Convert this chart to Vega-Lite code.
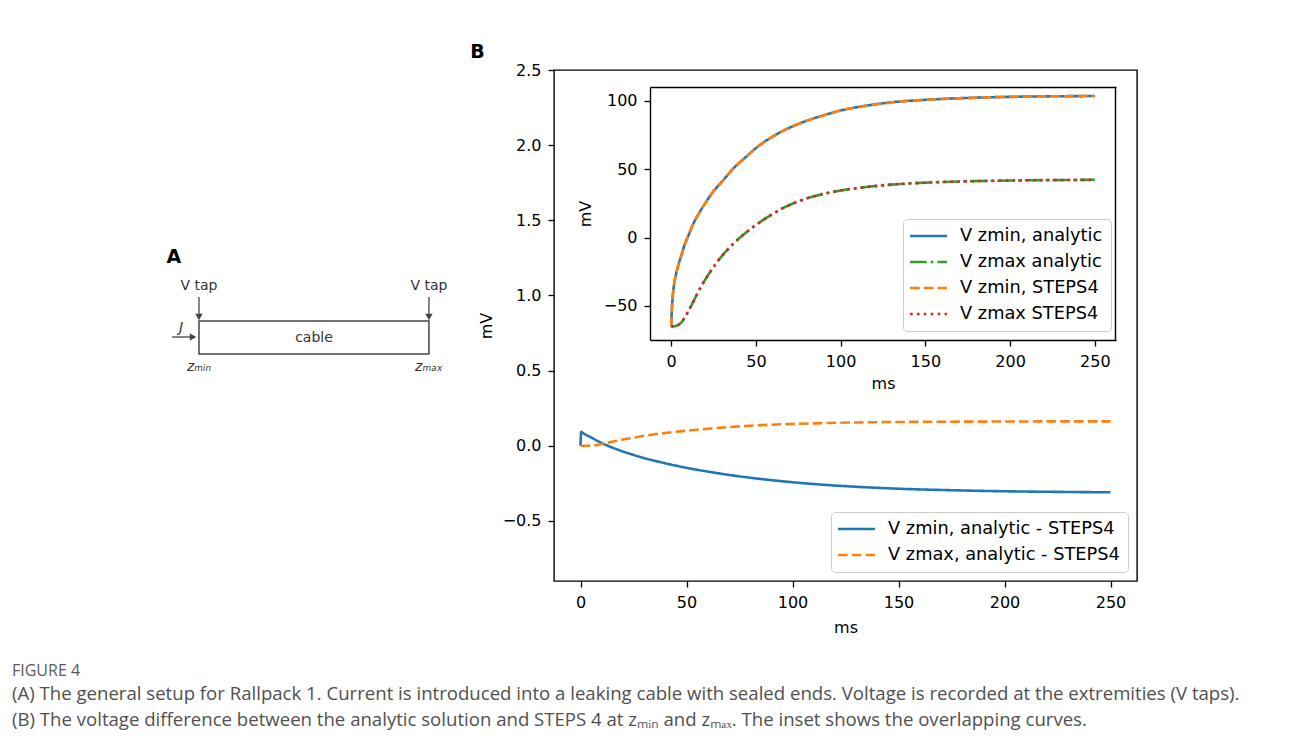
{
  "$schema": "https://vega.github.io/schema/vega-lite/v6.json",
  "background": "white",
  "padding": {"left": 12, "top": 42, "right": 5, "bottom": 5},
  "title": {
    "text": "FIGURE 4",
    "subtitle": [
      "(A) The general setup for Rallpack 1. Current is introduced into a leaking cable with sealed ends. Voltage is recorded at the extremities (V taps).",
      "(B) The voltage difference between the analytic solution and STEPS 4 at zₘᵢₙ and zₘₐₓ. The inset shows the overlapping curves."
    ],
    "orient": "bottom",
    "anchor": "start",
    "frame": "bounds",
    "offset": 27,
    "font": "Open Sans",
    "fontSize": 16,
    "fontWeight": "normal",
    "color": "#5a5a5a",
    "subtitleFont": "Open Sans",
    "subtitleFontSize": 18.6,
    "subtitleColor": "#505050",
    "subtitleLineHeight": 26,
    "subtitlePadding": 6
  },
  "datasets": {
    "cable": [{"z0": 0, "z1": 1, "u0": 0, "u1": 1}],
    "taps": [
      {"z0": 0, "u0": 1.73, "z1": 0, "u1": 1.12},
      {"z0": 1, "u0": 1.73, "z1": 1, "u1": 1.12},
      {"z0": -0.117, "u0": 0.515, "z1": -0.026, "u1": 0.515}
    ],
    "tapHeads": [{"z": 0, "u": 1.12}, {"z": 1, "u": 1.12}],
    "currentHead": [{"z": -0.026, "u": 0.515}],
    "diagramText": [
      {"z": 0, "u": 2.06, "label": "V tap"},
      {"z": 1, "u": 2.06, "label": "V tap"},
      {"z": 0.5, "u": 0.485, "label": "cable"}
    ],
    "diagramMath": [
      {"z": -0.078, "u": 0.79, "label": "J"},
      {"z": 0, "u": -0.39, "label": "zₘᵢₙ"},
      {"z": 1, "u": -0.39, "label": "zₘₐₓ"}
    ],
    "panelA": [{"z": -0.109, "u": 2.94, "label": "A"}],
    "diff": [
      {"t": 0, "v": 0, "s": "V zmin, analytic - STEPS4"},
      {"t": 0.3, "v": 0.093, "s": "V zmin, analytic - STEPS4"},
      {"t": 1, "v": 0.086, "s": "V zmin, analytic - STEPS4"},
      {"t": 5, "v": 0.055, "s": "V zmin, analytic - STEPS4"},
      {"t": 10, "v": 0.018, "s": "V zmin, analytic - STEPS4"},
      {"t": 15, "v": -0.012, "s": "V zmin, analytic - STEPS4"},
      {"t": 20, "v": -0.038, "s": "V zmin, analytic - STEPS4"},
      {"t": 25, "v": -0.061, "s": "V zmin, analytic - STEPS4"},
      {"t": 30, "v": -0.082, "s": "V zmin, analytic - STEPS4"},
      {"t": 35, "v": -0.1, "s": "V zmin, analytic - STEPS4"},
      {"t": 40, "v": -0.117, "s": "V zmin, analytic - STEPS4"},
      {"t": 50, "v": -0.147, "s": "V zmin, analytic - STEPS4"},
      {"t": 60, "v": -0.172, "s": "V zmin, analytic - STEPS4"},
      {"t": 70, "v": -0.194, "s": "V zmin, analytic - STEPS4"},
      {"t": 80, "v": -0.213, "s": "V zmin, analytic - STEPS4"},
      {"t": 90, "v": -0.229, "s": "V zmin, analytic - STEPS4"},
      {"t": 100, "v": -0.243, "s": "V zmin, analytic - STEPS4"},
      {"t": 115, "v": -0.26, "s": "V zmin, analytic - STEPS4"},
      {"t": 130, "v": -0.273, "s": "V zmin, analytic - STEPS4"},
      {"t": 150, "v": -0.286, "s": "V zmin, analytic - STEPS4"},
      {"t": 175, "v": -0.296, "s": "V zmin, analytic - STEPS4"},
      {"t": 200, "v": -0.303, "s": "V zmin, analytic - STEPS4"},
      {"t": 225, "v": -0.307, "s": "V zmin, analytic - STEPS4"},
      {"t": 250, "v": -0.31, "s": "V zmin, analytic - STEPS4"},
      {"t": 0, "v": 0, "s": "V zmax, analytic - STEPS4"},
      {"t": 4, "v": 0, "s": "V zmax, analytic - STEPS4"},
      {"t": 8, "v": 0.005, "s": "V zmax, analytic - STEPS4"},
      {"t": 12, "v": 0.018, "s": "V zmax, analytic - STEPS4"},
      {"t": 16, "v": 0.03, "s": "V zmax, analytic - STEPS4"},
      {"t": 20, "v": 0.041, "s": "V zmax, analytic - STEPS4"},
      {"t": 25, "v": 0.053, "s": "V zmax, analytic - STEPS4"},
      {"t": 30, "v": 0.066, "s": "V zmax, analytic - STEPS4"},
      {"t": 35, "v": 0.076, "s": "V zmax, analytic - STEPS4"},
      {"t": 40, "v": 0.085, "s": "V zmax, analytic - STEPS4"},
      {"t": 50, "v": 0.1, "s": "V zmax, analytic - STEPS4"},
      {"t": 60, "v": 0.113, "s": "V zmax, analytic - STEPS4"},
      {"t": 70, "v": 0.124, "s": "V zmax, analytic - STEPS4"},
      {"t": 80, "v": 0.133, "s": "V zmax, analytic - STEPS4"},
      {"t": 90, "v": 0.14, "s": "V zmax, analytic - STEPS4"},
      {"t": 100, "v": 0.145, "s": "V zmax, analytic - STEPS4"},
      {"t": 115, "v": 0.151, "s": "V zmax, analytic - STEPS4"},
      {"t": 130, "v": 0.155, "s": "V zmax, analytic - STEPS4"},
      {"t": 150, "v": 0.158, "s": "V zmax, analytic - STEPS4"},
      {"t": 175, "v": 0.16, "s": "V zmax, analytic - STEPS4"},
      {"t": 200, "v": 0.161, "s": "V zmax, analytic - STEPS4"},
      {"t": 225, "v": 0.162, "s": "V zmax, analytic - STEPS4"},
      {"t": 250, "v": 0.162, "s": "V zmax, analytic - STEPS4"}
    ],
    "inset": [
      {"t": 0, "v": -65, "s": "V zmin, analytic"},
      {"t": 0.5, "v": -50, "s": "V zmin, analytic"},
      {"t": 1, "v": -42, "s": "V zmin, analytic"},
      {"t": 2, "v": -32, "s": "V zmin, analytic"},
      {"t": 3, "v": -26, "s": "V zmin, analytic"},
      {"t": 4, "v": -21, "s": "V zmin, analytic"},
      {"t": 6, "v": -13, "s": "V zmin, analytic"},
      {"t": 8, "v": -5, "s": "V zmin, analytic"},
      {"t": 10, "v": 1, "s": "V zmin, analytic"},
      {"t": 13, "v": 10, "s": "V zmin, analytic"},
      {"t": 16, "v": 17, "s": "V zmin, analytic"},
      {"t": 20, "v": 25, "s": "V zmin, analytic"},
      {"t": 25, "v": 34, "s": "V zmin, analytic"},
      {"t": 30, "v": 41, "s": "V zmin, analytic"},
      {"t": 37, "v": 51, "s": "V zmin, analytic"},
      {"t": 45, "v": 60, "s": "V zmin, analytic"},
      {"t": 50, "v": 65.5, "s": "V zmin, analytic"},
      {"t": 60, "v": 74, "s": "V zmin, analytic"},
      {"t": 70, "v": 80.5, "s": "V zmin, analytic"},
      {"t": 80, "v": 85.5, "s": "V zmin, analytic"},
      {"t": 90, "v": 89.5, "s": "V zmin, analytic"},
      {"t": 100, "v": 93, "s": "V zmin, analytic"},
      {"t": 115, "v": 96.5, "s": "V zmin, analytic"},
      {"t": 130, "v": 99, "s": "V zmin, analytic"},
      {"t": 150, "v": 100.8, "s": "V zmin, analytic"},
      {"t": 175, "v": 102.2, "s": "V zmin, analytic"},
      {"t": 200, "v": 103, "s": "V zmin, analytic"},
      {"t": 225, "v": 103.4, "s": "V zmin, analytic"},
      {"t": 250, "v": 103.6, "s": "V zmin, analytic"},
      {"t": 0, "v": -65, "s": "V zmax analytic"},
      {"t": 2, "v": -64.8, "s": "V zmax analytic"},
      {"t": 4, "v": -64, "s": "V zmax analytic"},
      {"t": 6, "v": -62, "s": "V zmax analytic"},
      {"t": 8, "v": -58.5, "s": "V zmax analytic"},
      {"t": 10, "v": -54, "s": "V zmax analytic"},
      {"t": 12, "v": -49.5, "s": "V zmax analytic"},
      {"t": 15, "v": -42, "s": "V zmax analytic"},
      {"t": 18, "v": -35, "s": "V zmax analytic"},
      {"t": 22, "v": -27, "s": "V zmax analytic"},
      {"t": 27, "v": -18, "s": "V zmax analytic"},
      {"t": 32, "v": -10.5, "s": "V zmax analytic"},
      {"t": 37, "v": -4, "s": "V zmax analytic"},
      {"t": 42, "v": 1.5, "s": "V zmax analytic"},
      {"t": 47, "v": 6.5, "s": "V zmax analytic"},
      {"t": 55, "v": 13.5, "s": "V zmax analytic"},
      {"t": 65, "v": 21, "s": "V zmax analytic"},
      {"t": 75, "v": 26.5, "s": "V zmax analytic"},
      {"t": 85, "v": 30.5, "s": "V zmax analytic"},
      {"t": 100, "v": 34.5, "s": "V zmax analytic"},
      {"t": 115, "v": 37, "s": "V zmax analytic"},
      {"t": 130, "v": 38.8, "s": "V zmax analytic"},
      {"t": 150, "v": 40.2, "s": "V zmax analytic"},
      {"t": 175, "v": 41.2, "s": "V zmax analytic"},
      {"t": 200, "v": 41.8, "s": "V zmax analytic"},
      {"t": 225, "v": 42.1, "s": "V zmax analytic"},
      {"t": 250, "v": 42.3, "s": "V zmax analytic"},
      {"t": 0, "v": -65, "s": "V zmin, STEPS4"},
      {"t": 0.5, "v": -50, "s": "V zmin, STEPS4"},
      {"t": 1, "v": -42, "s": "V zmin, STEPS4"},
      {"t": 2, "v": -32, "s": "V zmin, STEPS4"},
      {"t": 3, "v": -26, "s": "V zmin, STEPS4"},
      {"t": 4, "v": -21, "s": "V zmin, STEPS4"},
      {"t": 6, "v": -13, "s": "V zmin, STEPS4"},
      {"t": 8, "v": -5, "s": "V zmin, STEPS4"},
      {"t": 10, "v": 1, "s": "V zmin, STEPS4"},
      {"t": 13, "v": 10, "s": "V zmin, STEPS4"},
      {"t": 16, "v": 17, "s": "V zmin, STEPS4"},
      {"t": 20, "v": 25, "s": "V zmin, STEPS4"},
      {"t": 25, "v": 34, "s": "V zmin, STEPS4"},
      {"t": 30, "v": 41, "s": "V zmin, STEPS4"},
      {"t": 37, "v": 51, "s": "V zmin, STEPS4"},
      {"t": 45, "v": 60, "s": "V zmin, STEPS4"},
      {"t": 50, "v": 65.5, "s": "V zmin, STEPS4"},
      {"t": 60, "v": 74, "s": "V zmin, STEPS4"},
      {"t": 70, "v": 80.5, "s": "V zmin, STEPS4"},
      {"t": 80, "v": 85.5, "s": "V zmin, STEPS4"},
      {"t": 90, "v": 89.5, "s": "V zmin, STEPS4"},
      {"t": 100, "v": 93, "s": "V zmin, STEPS4"},
      {"t": 115, "v": 96.5, "s": "V zmin, STEPS4"},
      {"t": 130, "v": 99, "s": "V zmin, STEPS4"},
      {"t": 150, "v": 100.8, "s": "V zmin, STEPS4"},
      {"t": 175, "v": 102.2, "s": "V zmin, STEPS4"},
      {"t": 200, "v": 103, "s": "V zmin, STEPS4"},
      {"t": 225, "v": 103.4, "s": "V zmin, STEPS4"},
      {"t": 250, "v": 103.6, "s": "V zmin, STEPS4"},
      {"t": 0, "v": -65, "s": "V zmax STEPS4"},
      {"t": 2, "v": -64.8, "s": "V zmax STEPS4"},
      {"t": 4, "v": -64, "s": "V zmax STEPS4"},
      {"t": 6, "v": -62, "s": "V zmax STEPS4"},
      {"t": 8, "v": -58.5, "s": "V zmax STEPS4"},
      {"t": 10, "v": -54, "s": "V zmax STEPS4"},
      {"t": 12, "v": -49.5, "s": "V zmax STEPS4"},
      {"t": 15, "v": -42, "s": "V zmax STEPS4"},
      {"t": 18, "v": -35, "s": "V zmax STEPS4"},
      {"t": 22, "v": -27, "s": "V zmax STEPS4"},
      {"t": 27, "v": -18, "s": "V zmax STEPS4"},
      {"t": 32, "v": -10.5, "s": "V zmax STEPS4"},
      {"t": 37, "v": -4, "s": "V zmax STEPS4"},
      {"t": 42, "v": 1.5, "s": "V zmax STEPS4"},
      {"t": 47, "v": 6.5, "s": "V zmax STEPS4"},
      {"t": 55, "v": 13.5, "s": "V zmax STEPS4"},
      {"t": 65, "v": 21, "s": "V zmax STEPS4"},
      {"t": 75, "v": 26.5, "s": "V zmax STEPS4"},
      {"t": 85, "v": 30.5, "s": "V zmax STEPS4"},
      {"t": 100, "v": 34.5, "s": "V zmax STEPS4"},
      {"t": 115, "v": 37, "s": "V zmax STEPS4"},
      {"t": 130, "v": 38.8, "s": "V zmax STEPS4"},
      {"t": 150, "v": 40.2, "s": "V zmax STEPS4"},
      {"t": 175, "v": 41.2, "s": "V zmax STEPS4"},
      {"t": 200, "v": 41.8, "s": "V zmax STEPS4"},
      {"t": 225, "v": 42.1, "s": "V zmax STEPS4"},
      {"t": 250, "v": 42.3, "s": "V zmax STEPS4"}
    ]
  },
  "spacing": 9,
  "hconcat": [
    {
      "width": 448,
      "height": 340,
      "view": {"stroke": null},
      "layer": [
        {
          "data": {"name": "cable"},
          "mark": {"type": "rect", "fillOpacity": 0, "stroke": "#444444", "strokeWidth": 1.5},
          "encoding": {
            "x": {"field": "z0", "type": "quantitative", "scale": {"domain": [-0.813, 1.135], "nice": false, "zero": false}, "axis": null},
            "x2": {"field": "z1"},
            "y": {"field": "u0", "type": "quantitative", "scale": {"domain": [-1.697, 8.606], "nice": false, "zero": false}, "axis": null},
            "y2": {"field": "u1"}
          }
        },
        {
          "data": {"name": "taps"},
          "mark": {"type": "rule", "stroke": "#444444", "strokeWidth": 1.3},
          "encoding": {
            "x": {"field": "z0", "type": "quantitative"},
            "x2": {"field": "z1"},
            "y": {"field": "u0", "type": "quantitative"},
            "y2": {"field": "u1"}
          }
        },
        {
          "data": {"name": "tapHeads"},
          "mark": {"type": "point", "shape": "triangle-down", "filled": true, "color": "#444444", "opacity": 1, "size": 55},
          "encoding": {
            "x": {"field": "z", "type": "quantitative"},
            "y": {"field": "u", "type": "quantitative"}
          }
        },
        {
          "data": {"name": "currentHead"},
          "mark": {"type": "point", "shape": "triangle-right", "filled": true, "color": "#444444", "opacity": 1, "size": 55},
          "encoding": {
            "x": {"field": "z", "type": "quantitative"},
            "y": {"field": "u", "type": "quantitative"}
          }
        },
        {
          "data": {"name": "diagramText"},
          "mark": {"type": "text", "font": "DejaVu Sans", "fontSize": 14, "color": "#333333", "baseline": "middle"},
          "encoding": {
            "x": {"field": "z", "type": "quantitative"},
            "y": {"field": "u", "type": "quantitative"},
            "text": {"field": "label"}
          }
        },
        {
          "data": {"name": "diagramMath"},
          "mark": {"type": "text", "font": "DejaVu Sans", "fontSize": 14, "fontStyle": "italic", "color": "#333333", "baseline": "middle"},
          "encoding": {
            "x": {"field": "z", "type": "quantitative"},
            "y": {"field": "u", "type": "quantitative"},
            "text": {"field": "label"}
          }
        },
        {
          "data": {"name": "panelA"},
          "mark": {"type": "text", "font": "DejaVu Sans", "fontSize": 19, "fontWeight": "bold", "color": "black", "baseline": "middle"},
          "encoding": {
            "x": {"field": "z", "type": "quantitative"},
            "y": {"field": "u", "type": "quantitative"},
            "text": {"field": "label"}
          }
        }
      ]
    },
    {
      "width": 583,
      "height": 511,
      "view": {"stroke": "black", "strokeWidth": 1.4},
      "title": {"text": "B", "anchor": "start", "frame": "bounds", "fontSize": 19, "fontWeight": "bold", "font": "DejaVu Sans", "color": "black", "offset": 0, "dx": -8},
      "layer": [
        {
          "data": {"name": "diff"},
          "mark": {"type": "line", "strokeWidth": 2.6, "interpolate": "monotone"},
          "encoding": {
            "x": {"field": "t", "type": "quantitative", "scale": {"domain": [-12.5, 262.5], "nice": false, "zero": false},
                  "axis": {"orient": "bottom", "values": [0, 50, 100, 150, 200, 250], "format": "d", "title": "ms", "domain": false, "titlePadding": 9}},
            "y": {"field": "v", "type": "quantitative", "scale": {"domain": [-0.9, 2.5], "nice": false, "zero": false},
                  "axis": {"orient": "left", "values": [-0.5, 0, 0.5, 1, 1.5, 2, 2.5], "format": ".1f", "title": "mV", "domain": false, "titlePadding": 8}},
            "color": {"field": "s", "type": "nominal",
                      "scale": {"domain": ["V zmin, analytic - STEPS4", "V zmax, analytic - STEPS4"], "range": ["#1f77b4", "#ff7f0e"]},
                      "legend": {"title": null, "orient": "bottom-right", "offset": 9, "symbolType": "M-1.33,0H3.6", "symbolSize": 225, "symbolStrokeWidth": 2.6, "labelOffset": 31}},
            "strokeDash": {"field": "s", "type": "nominal",
                           "scale": {"domain": ["V zmin, analytic - STEPS4", "V zmax, analytic - STEPS4"], "range": [[1, 0], [9.6, 4.15]]}}
          }
        },
        {
          "layer": [
            {
              "data": {"name": "inset"},
              "mark": {"type": "line", "strokeWidth": 2.6, "interpolate": "monotone"},
              "encoding": {
                "x": {"field": "t", "type": "quantitative", "scale": {"domain": [-12.5, 262.5], "range": [96, 562], "nice": false, "zero": false},
                      "axis": {"orient": "bottom", "offset": -241, "values": [0, 50, 100, 150, 200, 250], "format": "d", "title": "ms", "domain": true}},
                "y": {"field": "v", "type": "quantitative", "scale": {"domain": [-74.9, 110.2], "range": [270, 17], "nice": false, "zero": false},
                      "axis": {"orient": "left", "offset": -96, "values": [-50, 0, 50, 100], "format": "d", "title": "mV", "domain": true, "titlePadding": 10}},
                "color": {"field": "s", "type": "nominal",
                          "scale": {"domain": ["V zmin, analytic", "V zmax analytic", "V zmin, STEPS4", "V zmax STEPS4"], "range": ["#1f77b4", "#2ca02c", "#ff7f0e", "#d62728"]},
                          "legend": {"title": null, "orient": "none", "legendX": 349, "legendY": 149, "symbolType": "M-1.33,0H3.6", "symbolSize": 225, "symbolStrokeWidth": 2.6, "labelOffset": 31}},
                "strokeDash": {"field": "s", "type": "nominal",
                               "scale": {"domain": ["V zmin, analytic", "V zmax analytic", "V zmin, STEPS4", "V zmax STEPS4"], "range": [[1, 0], [16.6, 4.15, 2.6, 4.15], [9.6, 4.15], [2.6, 4.3]]}}
              }
            },
            {
              "data": {"name": "inset"},
              "mark": {"type": "point", "opacity": 0},
              "encoding": {
                "x": {"field": "t", "type": "quantitative", "scale": {"domain": [-12.5, 262.5], "range": [96, 562], "nice": false, "zero": false},
                      "axis": {"orient": "top", "offset": -17, "labels": false, "ticks": false, "domain": true, "title": null}},
                "y": {"field": "v", "type": "quantitative", "scale": {"domain": [-74.9, 110.2], "range": [270, 17], "nice": false, "zero": false},
                      "axis": {"orient": "right", "offset": -22, "labels": false, "ticks": false, "domain": true, "title": null}}
              }
            }
          ],
          "resolve": {"axis": {"x": "independent", "y": "independent"}}
        }
      ],
      "resolve": {"scale": {"x": "independent", "y": "independent", "color": "independent", "strokeDash": "independent"}}
    }
  ],
  "config": {
    "view": {"stroke": null},
    "font": "DejaVu Sans",
    "axis": {
      "grid": false,
      "labelFont": "DejaVu Sans", "labelFontSize": 16, "labelColor": "black", "labelPadding": 7, "labelFlush": false, "labelOverlap": false,
      "titleFont": "DejaVu Sans", "titleFontSize": 16, "titleFontWeight": "normal", "titleColor": "black", "titlePadding": 6,
      "tickColor": "black", "tickSize": 6, "tickWidth": 1.3,
      "domainColor": "black", "domainWidth": 1.4
    },
    "legend": {
      "labelFont": "DejaVu Sans", "labelFontSize": 17.8, "labelColor": "black", "labelLimit": 400,
      "rowPadding": 8, "padding": 8, "fillColor": "rgba(255,255,255,0.8)", "strokeColor": "#cccccc", "cornerRadius": 4
    }
  }
}
